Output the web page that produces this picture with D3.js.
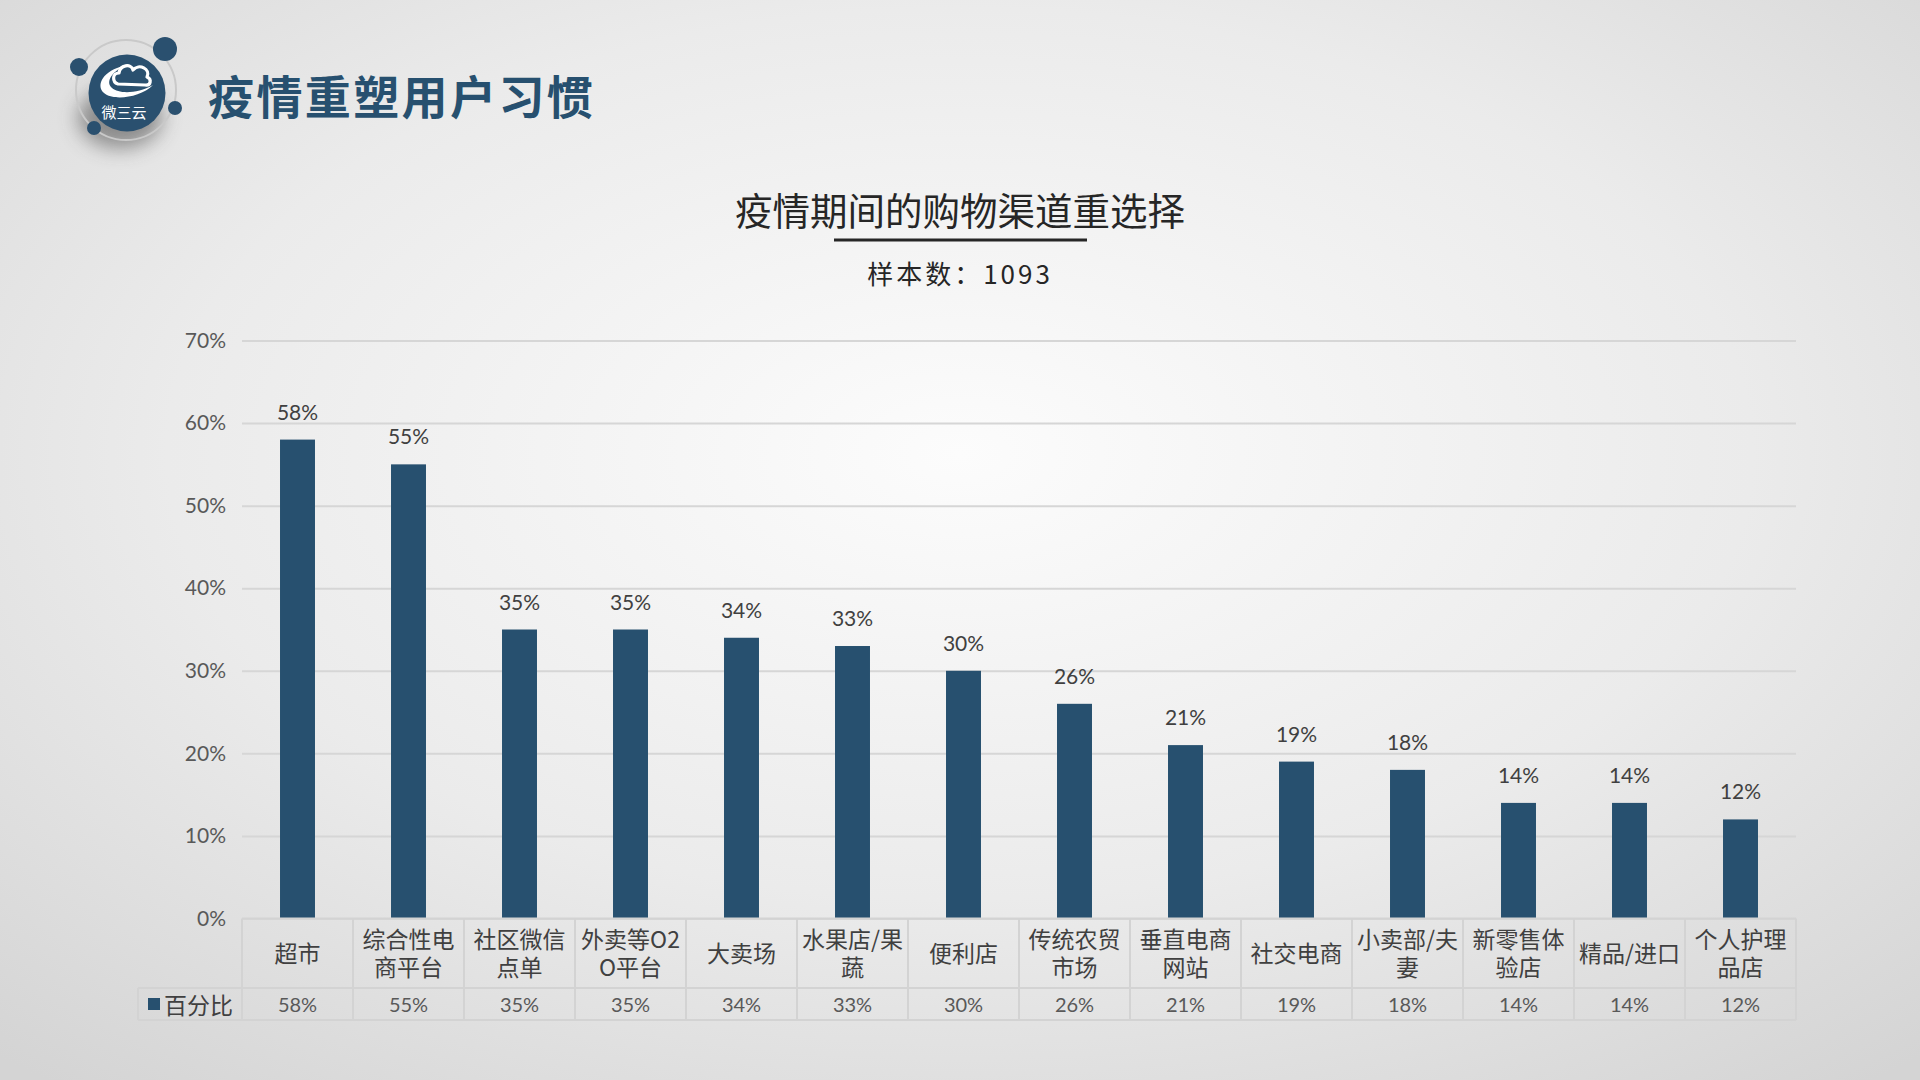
<!DOCTYPE html>
<html><head><meta charset="utf-8">
<script src="https://cdn.jsdelivr.net/npm/d3@7/dist/d3.min.js"></script>
<style>
html,body{margin:0;padding:0;width:1920px;height:1080px;overflow:hidden;}
svg{display:block;}
</style></head>
<body>
<script>
// ---- data ----
const categories = ["超市","综合性电商平台","社区微信点单","外卖等O2O平台","大卖场","水果店/果蔬","便利店","传统农贸市场","垂直电商网站","社交电商","小卖部/夫妻","新零售体验店","精品/进口","个人护理品店"];
const values = [0.58,0.55,0.35,0.35,0.34,0.33,0.30,0.26,0.21,0.19,0.18,0.14,0.14,0.12];
const yTicks = [0,0.1,0.2,0.3,0.4,0.5,0.6,0.7];
const seriesName = "百分比";
const pageTitle = "疫情重塑用户习惯";
const chartTitle = "疫情期间的购物渠道重选择";
const subTitle = "样本数：1093";

const W = 1920, H = 1080;
const CJK = "'Noto Sans CJK SC', sans-serif";
const LAT = "Lato, 'Noto Sans CJK SC', sans-serif";
const barColor = "#27506f";

const svg = d3.select("body").append("svg").attr("width", W).attr("height", H);
const defs = svg.append("defs");
const bg = defs.append("radialGradient").attr("id","bg").attr("cx","50%").attr("cy","42%").attr("r","75%");
bg.append("stop").attr("offset","0%").attr("stop-color","#fcfcfc");
bg.append("stop").attr("offset","55%").attr("stop-color","#ebebeb");
bg.append("stop").attr("offset","100%").attr("stop-color","#d4d4d4");
svg.append("rect").attr("width",W).attr("height",H).attr("fill","url(#bg)");

// ---- logo ----
const blur = defs.append("filter").attr("id","blur").attr("x","-60%").attr("y","-60%").attr("width","220%").attr("height","220%");
blur.append("feGaussianBlur").attr("stdDeviation", 10);
const logo = svg.append("g");
logo.append("ellipse").attr("cx",120).attr("cy",118).attr("rx",42).attr("ry",30).attr("fill","#444").attr("opacity",0.55).attr("filter","url(#blur)");
logo.append("circle").attr("cx",126).attr("cy",90).attr("r",50).attr("fill","none").attr("stroke","#c9c9c9").attr("stroke-width",2);
logo.append("circle").attr("cx",127).attr("cy",93).attr("r",38.5).attr("fill","#2a506f");
[[165,49,12],[79,67,9],[175,108,7],[94,128,7]].forEach(d=>{
  logo.append("circle").attr("cx",d[0]).attr("cy",d[1]).attr("r",d[2]).attr("fill","#2a506f");
});
// crescent swoosh
logo.append("path").attr("d","M124,66 C104,70 95,85 104,93 C113,101 140,98 153,85 C137,94 119,94 112,88 C105,82 112,72 124,66 Z").attr("fill","#fff");
// cloud
logo.append("path").attr("d","M118,84 C112,82 112,73 119,73 C120,65 131,63 133,70 C139,63 151,69 147,77 C152,79 151,86 145,85 Z")
  .attr("fill","none").attr("stroke","#fff").attr("stroke-width",3.2).attr("stroke-linejoin","round");
logo.append("text").attr("x",124).attr("y",111).attr("text-anchor","middle").attr("dominant-baseline","central")
  .attr("font-family",CJK).attr("font-size",15).attr("fill","#fff").text("微三云");

svg.append("text").attr("x",208).attr("y",94).attr("dominant-baseline","central")
  .attr("font-family",CJK).attr("font-weight",700).attr("font-size",46).attr("letter-spacing",2.4)
  .attr("fill","#27506f").text(pageTitle);

// ---- chart titles ----
svg.append("text").attr("x",960).attr("y",208).attr("text-anchor","middle").attr("dominant-baseline","central")
  .attr("font-family",CJK).attr("font-size",37.5).attr("fill","#262626").text(chartTitle);
svg.append("line").attr("x1",834).attr("x2",1087).attr("y1",240).attr("y2",240).attr("stroke","#262626").attr("stroke-width",3);
svg.append("text").attr("x",960).attr("y",272).attr("text-anchor","middle").attr("dominant-baseline","central")
  .attr("font-family",CJK).attr("font-size",26).attr("letter-spacing",3).attr("fill","#262626").text(subTitle);

// ---- scales ----
const x0 = 242, x1 = 1796, yTop = 340.5, yBot = 918.5;
const x = d3.scaleBand().domain(categories).range([x0,x1]).paddingInner(0.685).paddingOuter(0.3425);
const xc = d3.scaleBand().domain(categories).range([x0,x1]).padding(0);
const y = d3.scaleLinear().domain([0,0.7]).range([yBot,yTop]);

// gridlines + y axis
const yAxis = d3.axisLeft(y).tickValues(yTicks).tickFormat(d3.format(".0%")).tickSize(-(x1-x0)).tickPadding(16);
const ga = svg.append("g").attr("transform",`translate(${x0},0)`).call(yAxis);
ga.select(".domain").remove();
ga.selectAll(".tick line").attr("stroke","#d6d6d6").attr("stroke-width",2);
ga.selectAll(".tick text").attr("font-family",LAT).attr("font-size",21).attr("fill","#595959");

// bars
svg.append("g").selectAll("rect").data(values).join("rect")
  .attr("x",(d,i)=>x(categories[i])).attr("width",x.bandwidth())
  .attr("y",d=>y(d)).attr("height",d=>y(0)-y(d)).attr("fill",barColor);

// data labels
const fmt = d3.format(".0%");
svg.append("g").selectAll("text").data(values).join("text")
  .attr("x",(d,i)=>x(categories[i])+x.bandwidth()/2).attr("y",d=>y(d)-20)
  .attr("text-anchor","middle").attr("font-family",LAT).attr("font-size",21).attr("fill","#404040")
  .text(d=>fmt(d));

// ---- data table ----
const tTop = 918.5, tMid = 988, tBot = 1020, tLeft = 138;
const tbl = svg.append("g");
const bc = "#d3d3d3";
tbl.append("line").attr("x1",x0).attr("x2",x1).attr("y1",tTop).attr("y2",tTop).attr("stroke",bc).attr("stroke-width",2);
tbl.append("line").attr("x1",tLeft).attr("x2",x1).attr("y1",tMid).attr("y2",tMid).attr("stroke",bc).attr("stroke-width",2);
tbl.append("line").attr("x1",tLeft).attr("x2",x1).attr("y1",tBot).attr("y2",tBot).attr("stroke",bc).attr("stroke-width",2);
tbl.append("line").attr("x1",tLeft).attr("x2",tLeft).attr("y1",tMid).attr("y2",tBot).attr("stroke",bc).attr("stroke-width",2);
const bounds = categories.map(c=>xc(c)).concat([x1]);
tbl.selectAll("line.v").data(bounds).join("line").attr("class","v")
  .attr("x1",d=>d).attr("x2",d=>d).attr("y1",tTop).attr("y2",tBot).attr("stroke",bc).attr("stroke-width",2);

// category labels with char wrapping (one text per line)
const maxW = xc.bandwidth() - 5;
const fsCat = 23;
categories.forEach((c,i)=>{
  const cx = xc(c) + xc.bandwidth()/2;
  const chars = Array.from(c);
  const lines = []; let cur = "";
  const probe = tbl.append("text").attr("font-family",CJK).attr("font-size",fsCat);
  chars.forEach(ch=>{
    probe.text(cur+ch);
    if (probe.node().getComputedTextLength() > maxW && cur.length) { lines.push(cur); cur = ch; }
    else cur += ch;
  });
  probe.remove();
  lines.push(cur);
  const lh = 28, mid = (tTop+tMid)/2 - 1;
  lines.forEach((ln,j)=>{
    tbl.append("text").attr("text-anchor","middle").attr("font-family",CJK).attr("font-size",fsCat).attr("fill","#404040")
      .attr("x",cx).attr("y", mid + (j-(lines.length-1)/2)*lh).attr("dominant-baseline","central").text(ln);
  });
});
// value row
tbl.selectAll("text.val").data(values).join("text").attr("class","val")
  .attr("x",(d,i)=>xc(categories[i])+xc.bandwidth()/2).attr("y",(tMid+tBot)/2).attr("dominant-baseline","central")
  .attr("text-anchor","middle").attr("font-family",LAT).attr("font-size",20).attr("fill","#595959").text(d=>fmt(d));
// legend
tbl.append("rect").attr("x",148).attr("y",998).attr("width",12).attr("height",12).attr("fill",barColor);
tbl.append("text").attr("x",164).attr("y",(tMid+tBot)/2).attr("dominant-baseline","central")
  .attr("font-family",CJK).attr("font-size",23).attr("fill","#404040").text(seriesName);
</script>
</body></html>
